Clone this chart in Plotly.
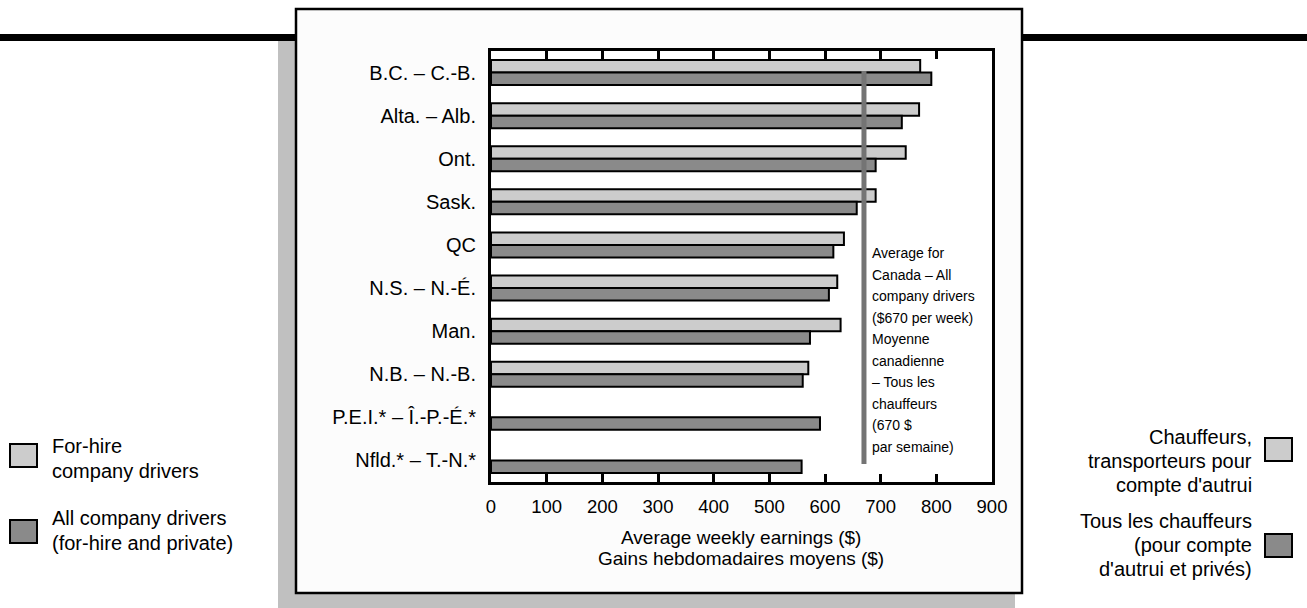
import plotly.graph_objects as go

# ---- data ----
provinces = ["B.C. – C.-B.", "Alta. – Alb.", "Ont.", "Sask.", "QC", "N.S. – N.-É.",
             "Man.", "N.B. – N.-B.", "P.E.I.* – Î.-P.-É.*", "Nfld.* – T.-N.*"]
for_hire = [771, 769, 745, 691, 634, 622, 628, 570, None, None]
all_company = [791, 738, 691, 657, 615, 607, 573, 560, 591, 558]
canada_avg = 670
x_ticks = [0, 100, 200, 300, 400, 500, 600, 700, 800, 900]

avg_note = ["Average for", "Canada – All", "company drivers", "($670 per week)",
            "Moyenne", "canadienne", "– Tous les", "chauffeurs", "(670 $", "par semaine)"]
x_title = ["Average weekly earnings ($)", "Gains hebdomadaires moyens ($)"]
legend_left = [["For-hire", "company drivers"], ["All company drivers", "(for-hire and private)"]]
legend_right = [["Chauffeurs,", "transporteurs pour", "compte d'autrui"],
                ["Tous les chauffeurs", "(pour compte", "d'autrui et privés)"]]

# ---- geometry (pixels) ----
W, H = 1307, 608
L, R, T, B = 491, 992, 51, 482
FONT = "Liberation Sans, Arial, sans-serif"
LIGHT, DARK = "#cccccc", "#8a8a8a"


def xp(px):
    return (px - L) / (R - L)


def yp(py):
    return (B - py) / (B - T)


fig = go.Figure()
fig.add_trace(go.Bar(y=provinces, x=for_hire, orientation="h", name="For-hire",
                     marker=dict(color=LIGHT, line=dict(color="black", width=2))))
fig.add_trace(go.Bar(y=provinces, x=all_company, orientation="h", name="All",
                     marker=dict(color=DARK, line=dict(color="black", width=2))))

shapes = []
# thick black rule
shapes.append(dict(type="rect", xref="paper", yref="paper", x0=xp(-5), x1=xp(W + 5),
                   y0=yp(34), y1=yp(41), fillcolor="black", line=dict(width=0), layer="below"))
# shadow
shapes.append(dict(type="rect", xref="paper", yref="paper", x0=xp(278), x1=xp(1015),
                   y0=yp(41), y1=yp(620), fillcolor="#c0c0c0", line=dict(width=0), layer="below"))
# frame
shapes.append(dict(type="rect", xref="paper", yref="paper", x0=xp(296), x1=xp(1022),
                   y0=yp(9), y1=yp(593), fillcolor="#fcfcfc", line=dict(color="black", width=2.5),
                   layer="below"))
# plot area background
shapes.append(dict(type="rect", xref="paper", yref="paper", x0=0, x1=1, y0=0, y1=1,
                   fillcolor="white", line=dict(width=0), layer="below"))
# Canada average line
shapes.append(dict(type="line", xref="x", yref="paper", x0=canada_avg, x1=canada_avg,
                   y0=yp(71), y1=yp(464), line=dict(color="#747474", width=5), layer="above"))

# legend squares
for (x0, y0, col) in [(10, 444, LIGHT), (10, 520, DARK), (1265, 438, LIGHT), (1265, 534, DARK)]:
    shapes.append(dict(type="rect", xref="paper", yref="paper", x0=xp(x0), x1=xp(x0 + 27),
                       y0=yp(y0), y1=yp(y0 + 23), fillcolor=col,
                       line=dict(color="black", width=2), layer="above"))

annotations = []
for i, line in enumerate(avg_note):
    annotations.append(dict(xref="paper", yref="paper", x=xp(870), y=yp(253 + i * 21.5),
                            text=line, showarrow=False, xanchor="left", yanchor="middle",
                            font=dict(family=FONT, size=14, color="black")))
for i, line in enumerate(x_title):
    annotations.append(dict(xref="paper", yref="paper", x=xp(741), y=yp(537 + i * 21.5),
                            text=line, showarrow=False, xanchor="center", yanchor="middle",
                            font=dict(family=FONT, size=19, color="black")))
for g, lines in enumerate(legend_left):
    for i, line in enumerate(lines):
        annotations.append(dict(xref="paper", yref="paper", x=xp(50), y=yp([446, 518][g] + i * 25),
                                text=line, showarrow=False, xanchor="left", yanchor="middle",
                                font=dict(family=FONT, size=20, color="black")))
for g, lines in enumerate(legend_right):
    for i, line in enumerate(lines):
        annotations.append(dict(xref="paper", yref="paper", x=xp(1254), y=yp([437, 521][g] + i * 24),
                                text=line, showarrow=False, xanchor="right", yanchor="middle",
                                font=dict(family=FONT, size=20, color="black")))

fig.update_layout(
    width=W, height=H, autosize=False,
    margin=dict(l=L, r=W - R, t=T, b=H - B, pad=0),
    paper_bgcolor="white", plot_bgcolor="rgba(0,0,0,0)",
    barmode="group", bargap=0.42, bargroupgap=0,
    showlegend=False,
    shapes=shapes, annotations=annotations,
    font=dict(family=FONT, size=18, color="black"),
)
fig.update_xaxes(range=[0, 900], tickvals=x_ticks, ticktext=[str(v) for v in x_ticks],
                 ticks="inside", ticklen=8, tickwidth=3, tickcolor="black",
                 showline=True, linewidth=3, linecolor="black", mirror="ticks",
                 showgrid=False, zeroline=False, ticklabelstandoff=6,
                 tickfont=dict(family=FONT, size=18.5))
fig.update_yaxes(autorange="reversed", showline=True, linewidth=3, linecolor="black",
                 mirror=True, ticks="", showgrid=False, zeroline=False,
                 ticklabelstandoff=8, tickfont=dict(family=FONT, size=20))

fig.write_html("out.html")
